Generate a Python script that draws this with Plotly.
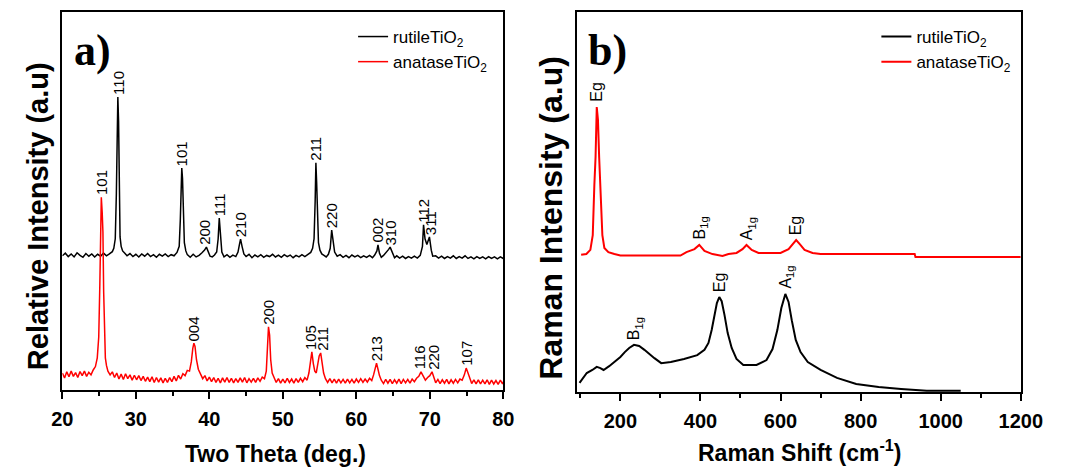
import plotly.graph_objects as go

# ---------------- XRD data (panel a) ----------------
xrd_rutile_2theta = [20.0, 20.4, 20.8, 21.2, 21.6, 22.0, 22.4, 22.8, 23.2, 23.6, 24.0, 24.4, 24.8, 25.2, 25.6, 26.0,
    26.4, 26.8, 27.0, 27.2, 27.35, 27.45, 27.55, 27.65, 27.75, 27.85, 28.0, 28.2, 28.5, 28.8, 29.2, 29.6,
    30.0, 30.4, 30.8, 31.2, 31.6, 32.0, 32.4, 32.8, 33.2, 33.6, 34.0, 34.4, 34.8, 35.2, 35.6, 35.9, 36.05,
    36.15, 36.25, 36.35, 36.45, 36.6, 36.8, 37.0, 37.4, 37.8, 38.2, 38.6, 39.0, 39.35, 39.6, 39.85, 40.1,
    40.4, 40.7, 41.0, 41.2, 41.35, 41.5, 41.7, 42.0, 42.4, 42.8, 43.2, 43.6, 43.9, 44.1, 44.25, 44.45,
    44.7, 45.0, 45.4, 45.8, 46.2, 46.6, 47.0, 47.4, 47.8, 48.2, 48.6, 49.0, 49.4, 49.8, 50.2, 50.6, 51.0,
    51.4, 51.8, 52.2, 52.6, 53.0, 53.4, 53.8, 54.05, 54.25, 54.4, 54.5, 54.6, 54.7, 54.85, 55.05, 55.3,
    55.6, 55.9, 56.2, 56.45, 56.65, 56.85, 57.05, 57.4, 57.8, 58.2, 58.6, 59.0, 59.4, 59.8, 60.2, 60.6,
    61.0, 61.4, 61.8, 62.2, 62.5, 62.8, 62.95, 63.15, 63.4, 63.7, 64.1, 64.4, 64.6, 64.9, 65.2, 65.5,
    65.9, 66.3, 66.7, 67.1, 67.5, 67.9, 68.3, 68.7, 69.0, 69.15, 69.35, 69.6, 69.8, 69.95, 70.2, 70.4,
    70.8, 71.2, 71.6, 72.0, 72.4, 72.8, 73.2, 73.6, 74.0, 74.4, 74.8, 75.2, 75.6, 76.0, 76.4, 76.8, 77.2,
    77.6, 78.0, 78.4, 78.8, 79.2, 79.6, 80.0]
xrd_rutile_int = [35.5, 36.2, 35.3, 36.0, 35.2, 36.3, 35.6, 35.1, 36.1, 35.4, 36.0, 35.2, 35.9, 35.4, 36.2, 35.5,
    36.0, 36.6, 37.5, 40.0, 52.0, 70.0, 77.5, 71.0, 48.0, 40.5, 38.0, 36.8, 36.2, 35.5, 36.1, 35.3,
    35.9, 35.2, 36.0, 35.4, 36.1, 35.3, 35.8, 35.1, 35.9, 35.4, 36.0, 35.3, 35.8, 35.5, 36.4, 38.0, 45.0,
    55.0, 58.7, 56.0, 46.0, 39.0, 36.8, 35.8, 35.1, 35.9, 35.2, 35.6, 36.3, 37.0, 37.8, 36.4, 35.4,
    35.2, 35.7, 36.5, 40.0, 45.5, 41.0, 36.5, 35.2, 35.8, 35.1, 35.7, 35.3, 36.5, 38.5, 39.9, 38.0,
    36.0, 35.3, 35.9, 35.0, 35.7, 35.2, 35.8, 35.1, 35.6, 35.3, 35.9, 35.2, 35.7, 35.1, 35.8, 35.3, 35.7,
    35.0, 35.6, 35.2, 35.8, 35.3, 35.9, 36.4, 37.5, 40.0, 50.0, 60.1, 55.0, 45.0, 39.0, 37.0, 36.0,
    35.6, 35.2, 35.9, 37.5, 42.3, 39.5, 36.5, 35.4, 35.8, 35.1, 35.6, 35.0, 35.7, 35.2, 35.6, 35.0,
    35.5, 35.1, 35.6, 35.0, 35.7, 36.8, 38.4, 36.2, 35.1, 35.6, 36.4, 37.2, 37.8, 36.2, 35.0, 35.5,
    34.9, 35.4, 34.8, 35.3, 34.9, 35.4, 34.9, 35.6, 38.0, 43.7, 40.0, 38.5, 39.5, 40.5, 37.0, 35.4,
    35.5, 34.9, 35.4, 34.8, 35.3, 34.9, 35.5, 34.8, 35.3, 34.9, 35.5, 34.8, 35.2, 34.7, 35.3, 34.8, 35.2,
    34.7, 35.3, 34.8, 35.2, 34.7, 35.2, 34.8]

xrd_anatase_2theta = [20.0, 20.3, 20.6, 20.9, 21.2, 21.5, 21.8, 22.1, 22.4, 22.7, 23.0, 23.3, 23.6, 23.9, 24.2,
    24.5, 24.75, 24.95, 25.1, 25.2, 25.3, 25.42, 25.52, 25.62, 25.72, 25.85, 26.0, 26.2, 26.5, 26.8,
    27.1, 27.4, 27.7, 28.0, 28.3, 28.6, 28.9, 29.2, 29.5, 29.8, 30.1, 30.4, 30.7, 31.0, 31.3, 31.6,
    31.9, 32.2, 32.5, 32.8, 33.1, 33.4, 33.7, 34.0, 34.3, 34.6, 34.9, 35.2, 35.5, 35.8, 36.1, 36.4,
    36.7, 37.0, 37.3, 37.55, 37.75, 37.9, 38.05, 38.25, 38.5, 38.8, 39.1, 39.4, 39.7, 40.0, 40.3, 40.6,
    40.9, 41.2, 41.5, 41.8, 42.1, 42.4, 42.7, 43.0, 43.3, 43.6, 43.9, 44.2, 44.5, 44.8, 45.1, 45.4,
    45.7, 46.0, 46.3, 46.6, 46.9, 47.2, 47.5, 47.75, 47.92, 48.05, 48.2, 48.35, 48.55, 48.8, 49.1,
    49.4, 49.7, 50.0, 50.3, 50.6, 50.9, 51.2, 51.5, 51.8, 52.1, 52.4, 52.7, 53.0, 53.3, 53.55, 53.75,
    53.95, 54.15, 54.35, 54.55, 54.75, 54.95, 55.15, 55.35, 55.55, 55.8, 56.1, 56.4, 56.7, 57.0, 57.3,
    57.6, 57.9, 58.2, 58.5, 58.8, 59.1, 59.4, 59.7, 60.0, 60.3, 60.6, 60.9, 61.2, 61.5, 61.8, 62.1,
    62.35, 62.55, 62.75, 62.95, 63.15, 63.4, 63.7, 64.0, 64.3, 64.6, 64.9, 65.2, 65.5, 65.8, 66.1,
    66.4, 66.7, 67.0, 67.3, 67.6, 67.9, 68.2, 68.5, 68.8, 69.1, 69.4, 69.7, 70.0, 70.3, 70.55, 70.8,
    71.1, 71.4, 71.7, 72.0, 72.3, 72.6, 72.9, 73.2, 73.5, 73.8, 74.1, 74.4, 74.7, 74.95, 75.2, 75.45,
    75.7, 76.0, 76.3, 76.6, 76.9, 77.2, 77.5, 77.8, 78.1, 78.4, 78.7, 79.0, 79.3, 79.6, 79.9, 80.0]
xrd_anatase_int = [4.5, 3.2, 4.8, 3.5, 5.0, 3.6, 4.6, 3.3, 4.9, 3.8, 5.0, 3.6, 4.7, 4.0, 5.3,
    6.2, 8.5, 14.0, 28.0, 40.0, 51.0, 47.0, 41.8, 26.0, 14.0, 8.5, 6.5, 5.0, 4.0, 4.8,
    3.3, 4.5, 2.9, 4.2, 2.8, 4.3, 3.0, 4.0, 2.6, 3.9, 2.7, 3.8, 2.5, 3.6, 2.3, 3.4,
    2.2, 3.5, 2.0, 3.3, 2.1, 3.2, 1.9, 3.1, 2.0, 3.3, 2.2, 3.6, 2.4, 3.9, 2.9, 4.3,
    3.8, 5.2, 5.0, 7.5, 11.0, 12.4, 11.5, 8.0, 5.5, 4.0, 3.0, 3.8, 2.4, 3.4, 2.2, 3.3,
    2.0, 3.1, 1.9, 3.2, 2.1, 3.3, 2.0, 3.1, 1.9, 3.0, 2.0, 3.2, 2.1, 3.3, 1.9, 3.0,
    2.1, 3.1, 2.0, 3.2, 2.3, 3.4, 3.0, 5.0, 12.0, 16.7, 14.5, 8.0, 4.5, 3.2, 2.0,
    3.0, 1.8, 2.9, 1.9, 3.1, 2.0, 2.9, 1.8, 3.0, 2.0, 3.1, 2.2, 3.3, 2.6, 4.5, 7.5,
    10.1, 7.0, 5.0, 4.5, 6.5, 9.0, 9.8, 7.0, 4.5, 3.0, 2.0, 3.0, 1.9, 2.9, 1.8,
    2.9, 1.9, 2.8, 1.8, 2.9, 1.9, 2.8, 1.8, 2.9, 2.0, 3.0, 2.0, 2.9, 2.1, 3.1, 2.5,
    4.0, 5.8, 7.1, 5.5, 3.8, 2.6, 1.7, 2.8, 1.8, 2.8, 1.7, 2.7, 1.8, 2.9, 1.7,
    2.8, 1.9, 2.8, 1.8, 2.9, 2.2, 3.1, 3.6, 4.8, 3.5, 2.6, 3.3, 3.8, 4.8, 3.2, 1.9,
    2.8, 1.7, 2.7, 1.8, 2.8, 1.6, 2.7, 1.8, 2.8, 1.9, 2.9, 2.6, 4.0, 5.8, 4.5, 2.8,
    1.7, 2.7, 1.6, 2.7, 1.6, 2.6, 1.6, 2.7, 1.5, 2.6, 1.6, 2.5, 1.5, 2.6, 1.6, 2.2]

# peak labels (hkl): label position (2theta) and peak height
rutile_peak_2theta = [27.55, 36.25, 39.3, 41.4, 44.25, 54.5, 56.65, 62.85, 64.7, 69.2, 70.2]
rutile_peak_int = [77.5, 58.7, 37.8, 45.5, 39.9, 60.1, 42.3, 38.4, 37.8, 43.7, 40.5]
rutile_peak_hkl = ["110", "101", "200", "111", "210", "211", "220", "002", "310", "112", "311"]

anatase_peak_2theta = [25.3, 37.9, 48.05, 53.8, 55.45, 62.75, 68.6, 70.5, 74.95]
anatase_peak_int = [51.0, 12.4, 16.7, 10.1, 9.8, 7.1, 4.8, 4.8, 5.8]
anatase_peak_hkl = ["101", "004", "200", "105", "211", "213", "116", "220", "107"]

# ---------------- Raman data (panel b) ----------------
raman_rutile_shift = [98, 116, 130, 141, 150, 158, 172, 186, 200, 211, 222, 234, 247, 260, 272, 285, 302, 326,
    359, 392, 410, 420, 428, 435, 441, 447, 453, 460, 468, 478, 490, 507, 540, 565, 580, 592, 602, 612,
    620, 628, 638, 650, 668, 700, 741, 789, 845, 901, 965, 1010, 1050]
raman_rutile_int = [2.4, 5.0, 5.8, 6.6, 6.3, 5.8, 6.8, 7.9, 9.2, 10.5, 11.6, 12.4, 12.1, 11.1, 10.0, 8.9, 7.6,
    7.9, 8.7, 9.7, 11.1, 12.9, 16.3, 20.3, 23.4, 25.0, 23.9, 20.3, 15.5, 11.6, 8.7, 7.1, 7.1, 8.4, 11.3,
    16.3, 22.1, 25.8, 23.7, 18.9, 13.7, 10.5, 7.9, 5.8, 3.7, 2.1, 1.3, 0.8, 0.3, 0.3, 0.3]

raman_anatase_shift = [102, 115, 125, 131, 135, 138, 141, 144, 147, 151, 155, 160, 170, 185, 200, 350, 365,
    385, 397, 410, 430, 455, 470, 490, 505, 515, 528, 545, 600, 620, 632, 639, 648, 660, 680, 700,
    935, 937, 1200]
raman_anatase_int = [36.1, 36.3, 37.4, 41.3, 54.5, 61.8, 75.0, 71.6, 61.8, 50.5, 41.3, 37.9, 36.8, 36.3,
    35.9, 35.9, 36.8, 37.6, 38.7, 37.1, 36.3, 35.8, 36.3, 36.6, 37.6, 38.7, 37.4, 36.6, 36.6, 37.6,
    39.2, 40.0, 38.9, 37.4, 36.6, 36.3, 36.3, 35.5, 35.5]

raman_rutile_mode_shift = [236, 447, 614]
raman_rutile_mode_int = [12.4, 25.0, 25.8]
raman_rutile_mode = ["B<sub>1g</sub>", "Eg", "A<sub>1g</sub>"]

raman_anatase_mode_shift = [141, 399, 518, 637]
raman_anatase_mode_int = [75.0, 38.7, 38.7, 40.0]
raman_anatase_mode = ["Eg", "B<sub>1g</sub>", "A<sub>1g</sub>", "Eg"]

# ---------------- figure ----------------
W, H = 1067, 469
FONT = "Arial, Liberation Sans, sans-serif"
SERIF = "Times New Roman, Liberation Serif, serif"

fig = go.Figure()

fig.add_trace(go.Scatter(x=xrd_rutile_2theta, y=xrd_rutile_int, mode="lines",
                         line=dict(color="black", width=1.5), name="rutileTiO<sub>2</sub>",
                         xaxis="x", yaxis="y", legend="legend", legendgroup="a1"))
fig.add_trace(go.Scatter(x=xrd_anatase_2theta, y=xrd_anatase_int, mode="lines",
                         line=dict(color="#ff0000", width=1.5), name="anataseTiO<sub>2</sub>",
                         xaxis="x", yaxis="y", legend="legend", legendgroup="a2"))
fig.add_trace(go.Scatter(x=raman_rutile_shift, y=raman_rutile_int, mode="lines",
                         line=dict(color="black", width=2), name="rutileTiO<sub>2</sub>",
                         xaxis="x2", yaxis="y2", legend="legend2", legendgroup="b1"))
fig.add_trace(go.Scatter(x=raman_anatase_shift, y=raman_anatase_int, mode="lines",
                         line=dict(color="#ff0000", width=2), name="anataseTiO<sub>2</sub>",
                         xaxis="x2", yaxis="y2", legend="legend2", legendgroup="b2"))

axis_common = dict(showline=True, linecolor="black", linewidth=2, mirror=True,
                   showgrid=False, zeroline=False)
tick_common = dict(ticks="outside", ticklen=7, tickwidth=2, tickcolor="black", ticklabelstandoff=3,
                   tickfont=dict(size=20, weight="bold", family=FONT, color="black"))
legend_common = dict(xanchor="left", yanchor="top", bgcolor="rgba(0,0,0,0)",
                     font=dict(size=17, family=FONT, color="black"), itemwidth=30,
                     tracegroupgap=3, traceorder="normal")

fig.update_layout(
    width=W, height=H,
    margin=dict(l=0, r=0, t=0, b=0),
    paper_bgcolor="white", plot_bgcolor="white",
    font=dict(family=FONT, color="black"),
    xaxis=dict(domain=[53 / W, 508 / W], range=[20, 80], anchor="y", tick0=20, dtick=10,
               minor=dict(ticks="outside", ticklen=4, tickwidth=2, tickcolor="black", dtick=5),
               **tick_common, **axis_common),
    yaxis=dict(domain=[(H - 390) / H, (H - 12) / H], range=[0, 100], anchor="x",
               showticklabels=False, ticks="", **axis_common),
    xaxis2=dict(domain=[584 / W, 1042 / W], range=[91.5, 1200], anchor="y2", tick0=0, dtick=200,
                minor=dict(ticks="outside", ticklen=4, tickwidth=2, tickcolor="black", dtick=100),
                **tick_common, **axis_common),
    yaxis2=dict(domain=[(H - 392) / H, (H - 12) / H], range=[0, 100], anchor="x2",
                showticklabels=False, ticks="", **axis_common),
    showlegend=True,
    legend=dict(x=353 / W, y=1 - 19 / H, **legend_common),
    legend2=dict(x=893 / W, y=1 - 19 / H, **legend_common),
)

annotations = []
# axis titles
annotations.append(dict(text="<b>Two Theta (deg.)</b>", x=273 / W, y=1 - 454 / H, xref="paper", yref="paper",
                         showarrow=False, font=dict(size=23, family=FONT), xanchor="center", yanchor="middle"))
annotations.append(dict(text="<b>Raman Shift (cm<sup>-1</sup>)</b>", x=814 / W, y=1 - 451 / H, xref="paper",
                         yref="paper", showarrow=False, font=dict(size=23, family=FONT),
                         xanchor="center", yanchor="middle"))
annotations.append(dict(text="<b>Relative Intensity (a.u)</b>", x=28 / W, y=1 - 216 / H, xref="paper",
                         yref="paper", showarrow=False, textangle=-90, font=dict(size=29, family=FONT),
                         xanchor="center", yanchor="middle"))
annotations.append(dict(text="<b>Raman Intensity (a.u)</b>", x=557 / W, y=1 - 218 / H, xref="paper",
                         yref="paper", showarrow=False, textangle=-90, font=dict(size=32, family=FONT),
                         xanchor="center", yanchor="middle"))
# panel letters
annotations.append(dict(text="<b>a)</b>", x=84 / W, y=1 - 50 / H, xref="paper", yref="paper",
                         showarrow=False, font=dict(size=44, family=SERIF),
                         xanchor="center", yanchor="middle"))
annotations.append(dict(text="<b>b)</b>", x=616 / W, y=1 - 50 / H, xref="paper", yref="paper",
                         showarrow=False, font=dict(size=44, family=SERIF),
                         xanchor="center", yanchor="middle"))

xrd_lab_font = dict(size=15, family=FONT, color="black")
raman_lab_font = dict(size=16, family=FONT, color="black")
for xs, ys, ts in [(rutile_peak_2theta, rutile_peak_int, rutile_peak_hkl),
                   (anatase_peak_2theta, anatase_peak_int, anatase_peak_hkl)]:
    for xv, yv, tv in zip(xs, ys, ts):
        annotations.append(dict(text=tv, x=xv, y=yv, xref="x", yref="y", showarrow=False,
                                textangle=-90, xanchor="center", yanchor="bottom", yshift=1,
                                font=xrd_lab_font, borderpad=0))
for xs, ys, ts in [(raman_rutile_mode_shift, raman_rutile_mode_int, raman_rutile_mode),
                   (raman_anatase_mode_shift, raman_anatase_mode_int, raman_anatase_mode)]:
    for xv, yv, tv in zip(xs, ys, ts):
        annotations.append(dict(text=tv, x=xv, y=yv, xref="x2", yref="y2", showarrow=False,
                                textangle=-90, xanchor="center", yanchor="bottom", yshift=4,
                                font=raman_lab_font, borderpad=0))

fig.update_layout(annotations=annotations)

fig.write_html("out.html")
